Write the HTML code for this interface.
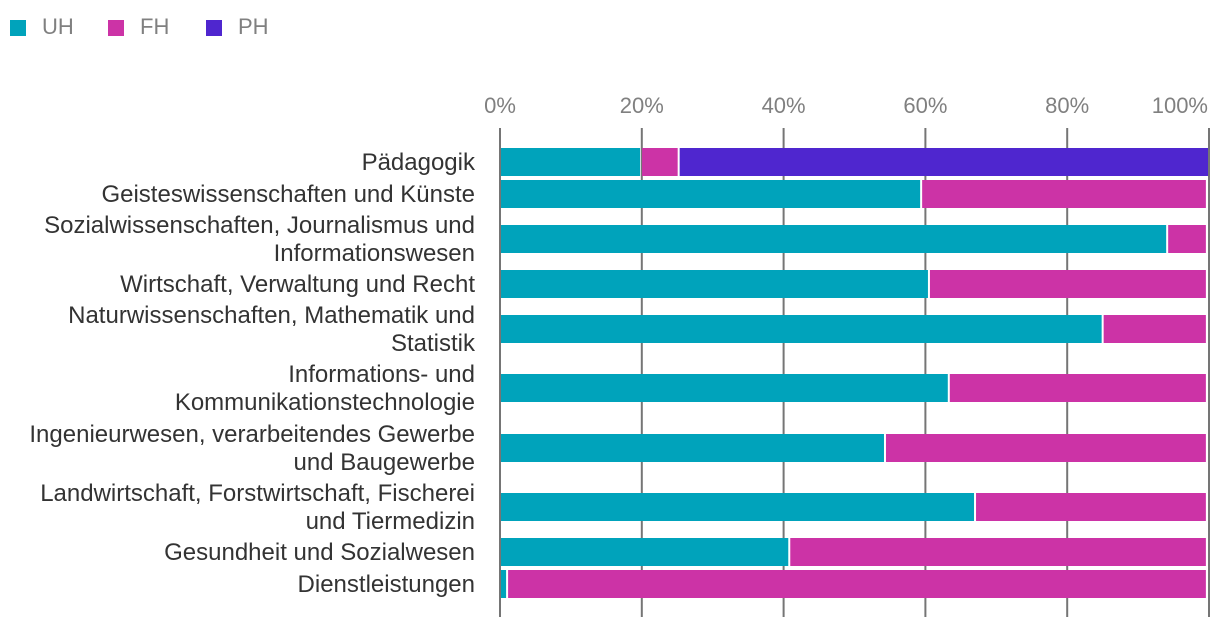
<!DOCTYPE html>
<html lang="de">
<head>
<meta charset="utf-8">
<title>UH, FH und PH nach Fachbereich</title>
<style>
html,body{margin:0;padding:0;background:#fff;width:1220px;height:630px;overflow:hidden}
svg{display:block;font-family:"Liberation Sans",Arial,sans-serif}
</style>
</head>
<body>
<svg id="chart" width="1220" height="630" viewBox="0 0 1220 630" xmlns="http://www.w3.org/2000/svg">
  <g id="legend"></g>
  <g id="grid"></g>
  <g id="ticks"></g>
  <g id="bars"></g>
  <g id="labels"></g>
</svg>
<script>
const categoryLines = [
  ["Pädagogik"],
  ["Geisteswissenschaften und Künste"],
  ["Sozialwissenschaften, Journalismus und", "Informationswesen"],
  ["Wirtschaft, Verwaltung und Recht"],
  ["Naturwissenschaften, Mathematik und", "Statistik"],
  ["Informations- und", "Kommunikationstechnologie"],
  ["Ingenieurwesen, verarbeitendes Gewerbe", "und Baugewerbe"],
  ["Landwirtschaft, Forstwirtschaft, Fischerei", "und Tiermedizin"],
  ["Gesundheit und Sozialwesen"],
  ["Dienstleistungen"]
];
const seriesNames = ["UH", "FH", "PH"];
const uhValues = [19.9, 59.4, 94.1, 60.5, 85.0, 63.3, 54.3, 67.0, 40.8, 1.0];
const fhValues = [5.3, 40.3, 5.6, 39.2, 14.7, 36.4, 45.4, 32.7, 58.9, 98.7];
const phValues = [74.8, 0, 0, 0, 0, 0, 0, 0, 0, 0];
const tickValues = [0, 20, 40, 60, 80, 100];
const tickLabels = ["0%", "20%", "40%", "60%", "80%", "100%"];

const seriesValues = [uhValues, fhValues, phValues];
const seriesColors = ["#00a3bb", "#cc33a6", "#4f26cf"];
const NS = "http://www.w3.org/2000/svg";

function xScale(v) { return 500 + v * 7.09; }

function rowCenters() {
  const out = [162];
  for (let i = 1; i < categoryLines.length; i++) {
    const a = categoryLines[i - 1].length, b = categoryLines[i].length;
    const step = (a === 1 && b === 1) ? 32 : (a === 2 && b === 2) ? 59.3 : 45;
    out.push(out[i - 1] + step);
  }
  return out.map(Math.round);
}

function make(tag, attrs, parent, text) {
  const el = document.createElementNS(NS, tag);
  for (const k in attrs) el.setAttribute(k, attrs[k]);
  if (text !== undefined) el.textContent = text;
  parent.appendChild(el);
  return el;
}

const gridG = document.getElementById("grid");
const ticksG = document.getElementById("ticks");
const barsG = document.getElementById("bars");
const labelsG = document.getElementById("labels");
const legendG = document.getElementById("legend");

tickValues.forEach(function (t, i) {
  const line = make("rect", { x: xScale(t) - 1, y: 128, width: 2, height: 489, fill: "#757575" }, gridG);
  
  
  const isLast = i === tickValues.length - 1;
  const label = make("text", {
    x: isLast ? xScale(t) - 1 : xScale(t),
    y: 113,
    "text-anchor": isLast ? "end" : "middle",
    "font-size": 22,
    fill: "#808080"
  }, ticksG, tickLabels[i]);
  
  
});

const centers = rowCenters();
categoryLines.forEach(function (lines, r) {
  const c = centers[r];
  let start = 0;
  seriesValues.forEach(function (vals, s) {
    const v = vals[r];
    if (v > 0) {
      const x0 = xScale(start) + 1, x1 = xScale(start + v) - 1;
      const bar = make("rect", { x: x0, y: c - 14, width: Math.max(x1 - x0, 0), height: 28, fill: seriesColors[s] }, barsG);
      
      
    }
    start += v;
  });
  lines.forEach(function (line, i) {
    const y = c + 8 + (i - (lines.length - 1) / 2) * 28;
    const t = make("text", { x: 475, y: y, "text-anchor": "end", "font-size": 24, fill: "#333333" }, labelsG, line);
    
    
  });
});

seriesNames.forEach(function (name, i) {
  const x = 10 + i * 98;
  const swatch = make("rect", { x: x, y: 20, width: 16, height: 16, fill: seriesColors[i] }, legendG);
  
  
  const label = make("text", { x: x + 32, y: 34, "font-size": 22, fill: "#808080" }, legendG, name);
  
  
});
</script>
</body>
</html>
